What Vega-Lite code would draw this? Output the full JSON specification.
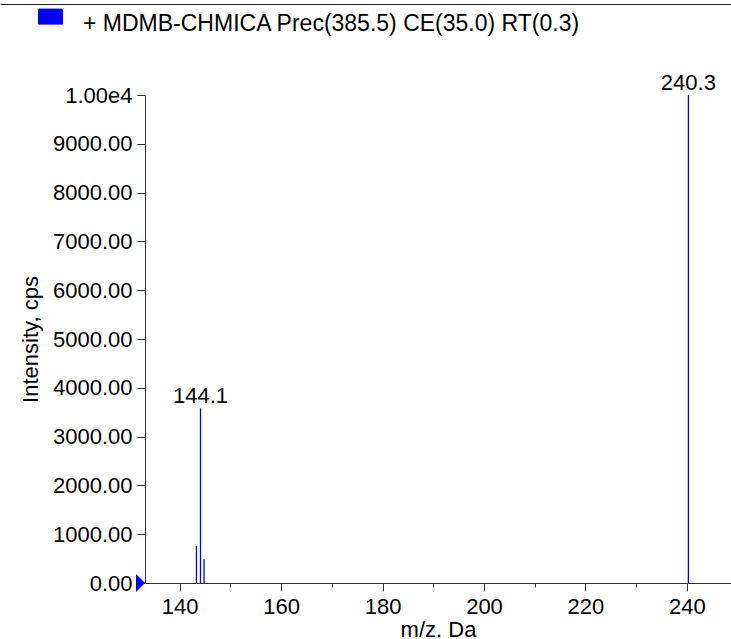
{
  "$schema": "https://vega.github.io/schema/vega-lite/v6.json",
  "width": 586,
  "height": 488,
  "autosize": {"type": "none"},
  "padding": {"left": 145, "top": 95, "right": 0, "bottom": 56},
  "background": "white",
  "config": {
    "view": {"stroke": null},
    "font": "Liberation Sans",
    "axis": {"labelFont": "Liberation Sans", "titleFont": "Liberation Sans", "grid": false},
    "legend": {"labelFont": "Liberation Sans"}
  },
  "datasets": {
    "peaks": [
      {"mz": 143.3, "intensity": 760, "label": "", "series": "+ MDMB-CHMICA Prec(385.5) CE(35.0) RT(0.3)"},
      {"mz": 144.1, "intensity": 3580, "label": "144.1", "series": "+ MDMB-CHMICA Prec(385.5) CE(35.0) RT(0.3)"},
      {"mz": 144.8, "intensity": 485, "label": "", "series": "+ MDMB-CHMICA Prec(385.5) CE(35.0) RT(0.3)"},
      {"mz": 240.3, "intensity": 10000, "label": "240.3", "series": "+ MDMB-CHMICA Prec(385.5) CE(35.0) RT(0.3)"}
    ],
    "marker": [{"mz": 133.16, "intensity": 0}]
  },
  "layer": [
    {
      "data": {"name": "peaks"},
      "mark": {"type": "rule", "strokeWidth": 1.3},
      "encoding": {
        "x": {
          "field": "mz",
          "type": "quantitative",
          "scale": {"domain": [133.16, 248.7], "nice": false, "zero": false},
          "axis": {
            "orient": "bottom",
            "values": [140, 150, 160, 170, 180, 190, 200, 210, 220, 230, 240],
            "labelExpr": "datum.value % 20 === 0 ? datum.label : ''",
            "tickSize": {"condition": {"test": "datum.value % 20 !== 0", "value": 4}, "value": 8},
            "domainColor": "#333333",
            "tickColor": "#333333",
            "labelColor": "black",
            "labelFontSize": 22,
            "labelPadding": 5,
            "labelOverlap": false,
            "labelFlush": false,
            "title": "m/z. Da",
            "titleFontSize": 22,
            "titleFontWeight": "normal",
            "titleColor": "black",
            "titlePadding": 2
          }
        },
        "y": {
          "field": "intensity",
          "type": "quantitative",
          "scale": {"domain": [0, 10000], "nice": false},
          "axis": {
            "values": [0, 500, 1000, 1500, 2000, 2500, 3000, 3500, 4000, 4500, 5000, 5500, 6000, 6500, 7000, 7500, 8000, 8500, 9000, 9500, 10000],
            "labelExpr": "datum.value % 1000 !== 0 ? '' : (datum.value === 10000 ? '1.00e4' : format(datum.value, '.2f'))",
            "tickSize": {"condition": {"test": "datum.value % 1000 !== 0", "value": 4}, "value": 8},
            "domainColor": "#333333",
            "tickColor": "#333333",
            "labelColor": "black",
            "labelFontSize": 22,
            "labelPadding": 5,
            "labelOverlap": false,
            "labelFlush": false,
            "title": "Intensity, cps",
            "titleFontSize": 22,
            "titleFontWeight": "normal",
            "titleColor": "black",
            "titlePadding": 10
          }
        },
        "y2": {"datum": 0},
        "color": {
          "field": "series",
          "type": "nominal",
          "scale": {"range": ["#0000ff"]},
          "legend": {
            "orient": "none",
            "legendX": -107,
            "legendY": -84,
            "title": null,
            "padding": 0,
            "symbolType": "M-1,-1.2H1V0.05H-1Z",
            "symbolSize": 576,
            "labelFontSize": 23,
            "labelColor": "black",
            "labelOffset": 20,
            "labelLimit": 0,
            "labelBaseline": "middle",
            "encode": {
              "symbols": {
                "update": {
                  "fill": {"value": "#0000ff"},
                  "stroke": {"value": "black"},
                  "strokeWidth": {"value": 1},
                  "opacity": {"value": 1},
                  "fillOpacity": {"value": 1}
                }
              }
            }
          }
        }
      }
    },
    {
      "data": {"name": "marker"},
      "mark": {"type": "point", "shape": "M-1,-1L0,0L-1,1Z", "size": 324, "filled": true, "color": "#0000ff", "opacity": 1, "clip": false},
      "encoding": {
        "x": {
          "field": "mz",
          "type": "quantitative",
          "axis": {"orient": "top", "offset": 91, "position": -145, "ticks": false, "labels": false, "title": null, "domainColor": "#222222", "domainWidth": 1.2}
        },
        "y": {"field": "intensity", "type": "quantitative"}
      }
    },
    {
      "data": {"name": "peaks"},
      "transform": [{"filter": "datum.label !== ''"}],
      "mark": {"type": "text", "dy": -5, "baseline": "alphabetic", "fontSize": 22, "font": "Liberation Sans", "color": "black", "clip": false},
      "encoding": {
        "x": {
          "field": "mz",
          "type": "quantitative",
          "axis": {"orient": "top", "offset": 91, "ticks": false, "labels": false, "title": null, "domainColor": "#222222", "domainWidth": 1.2}
        },
        "y": {"field": "intensity", "type": "quantitative"},
        "text": {"field": "label"}
      }
    }
  ],
  "resolve": {"axis": {"x": "independent"}}
}
